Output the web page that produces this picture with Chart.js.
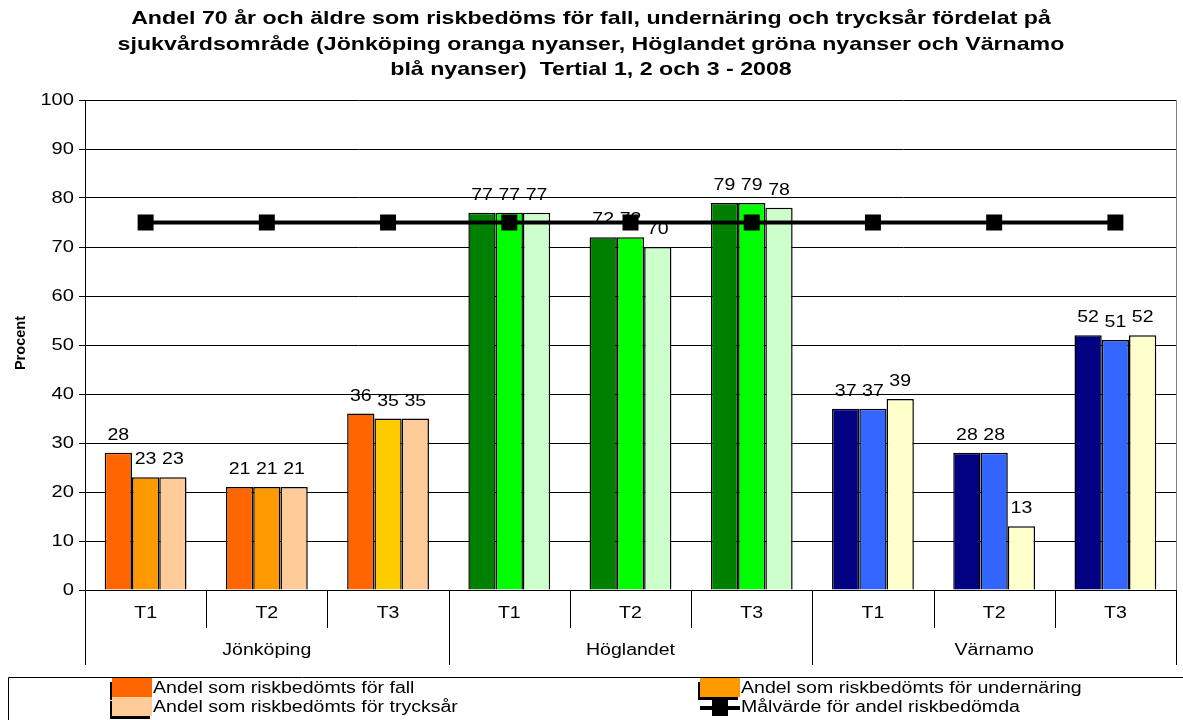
<!DOCTYPE html>
<html>
<head>
<meta charset="utf-8">
<script src="https://cdn.jsdelivr.net/npm/chart.js@4.4.1/dist/chart.umd.min.js"></script>
<style>
html,body{margin:0;padding:0;background:#fff;}
canvas{display:block;}
</style>
</head>
<body>
<canvas id="c" width="1183" height="720"></canvas>
<script>
const categories = ['T1','T2','T3','T1','T2','T3','T1','T2','T3'];
const groups = ['Jönköping','Höglandet','Värnamo'];
const fall = [28,21,36,77,72,79,37,28,52];
const undernaring = [23,21,35,77,72,79,37,28,51];
const trycksar = [23,21,35,77,70,78,39,13,52];
const malvarde = [75,75,75,75,75,75,75,75,75];
const seriesNames = ['Andel som riskbedömts för fall','Andel som riskbedömts för undernäring','Andel som riskbedömts för trycksår','Målvärde för andel riskbedömda'];
const titleLines = ['Andel 70 år och äldre som riskbedöms för fall, undernäring och trycksår fördelat på','sjukvårdsområde (Jönköping oranga nyanser, Höglandet gröna nyanser och Värnamo','blå nyanser)  Tertial 1, 2 och 3 - 2008'];
const yTitle = 'Procent';

const FONT = "'Liberation Sans', Arial, sans-serif";
const SX = 1.22;
const c1 = ['#FF6600','#FF6600','#FF6600','#008000','#008000','#008000','#000080','#000080','#000080'];
const c2 = ['#FF9900','#FF9900','#FFCC00','#00FF00','#00FF00','#00FF00','#3366FF','#3366FF','#3366FF'];
const c3 = ['#FFCC99','#FFCC99','#FFCC99','#CCFFCC','#CCFFCC','#CCFFCC','#FFFFCC','#FFFFCC','#FFFFCC'];

function txt(ctx, t, x, y, align, font, base) {
  ctx.save();
  ctx.translate(x, y);
  ctx.scale(SX, 1);
  ctx.font = font;
  ctx.textAlign = align;
  ctx.textBaseline = base || 'middle';
  ctx.fillStyle = '#000';
  ctx.fillText(t, 0, 0);
  ctx.restore();
}

const decor = {
  id: 'decor',
  afterDatasetDraw(chart, args) {
    const ds = chart.data.datasets[args.index];
    if (ds.type === 'line') return;
    const ctx = chart.ctx;
    args.meta.data.forEach((bar, i) => {
      txt(ctx, String(ds.data[i]), bar.x, bar.y - 13, 'center', '16px ' + FONT, 'alphabetic');
    });
  },
  afterDraw(chart) {
    const ctx = chart.ctx;
    const ca = chart.chartArea;
    const xs = chart.scales.x;
    const ys = chart.scales.y;
    ctx.save();
    // title
    titleLines.forEach((t, i) => txt(ctx, t, 591, 19 + i * 25.5, 'center', 'bold 19px ' + FONT));
    // y title
    ctx.save();
    ctx.translate(21, 343);
    ctx.rotate(-Math.PI / 2);
    ctx.scale(1.12, 1.1);
    ctx.font = 'bold 13px ' + FONT;
    ctx.textAlign = 'center';
    ctx.textBaseline = 'middle';
    ctx.fillStyle = '#000';
    ctx.fillText(yTitle, 0, 0);
    ctx.restore();
    // y tick labels
    ys.ticks.forEach(tk => {
      txt(ctx, String(tk.value), 74, ys.getPixelForValue(tk.value), 'right', '16.5px ' + FONT);
    });
    // right border
    ctx.strokeStyle = '#808080';
    ctx.lineWidth = 1;
    ctx.beginPath();
    ctx.moveTo(ca.right + 0.5, ca.top);
    ctx.lineTo(ca.right + 0.5, ca.bottom);
    ctx.stroke();
    // x axis line and category structure
    ctx.strokeStyle = '#000';
    ctx.beginPath();
    ctx.moveTo(ca.left, ca.bottom + 0.5);
    ctx.lineTo(ca.right, ca.bottom + 0.5);
    ctx.stroke();
    const n = categories.length;
    const half = (xs.getPixelForValue(1) - xs.getPixelForValue(0)) / 2;
    for (let i = 0; i <= n; i++) {
      const x = Math.round(i < n ? xs.getPixelForValue(i) - half : xs.getPixelForValue(n - 1) + half) + 0.5;
      const groupEdge = (i % 3 === 0);
      ctx.beginPath();
      ctx.moveTo(x, ca.bottom);
      ctx.lineTo(x, groupEdge ? 665 : 628);
      ctx.stroke();
    }
    categories.forEach((lab, i) => {
      txt(ctx, lab, xs.getPixelForValue(i), 614, 'center', '16px ' + FONT);
    });
    groups.forEach((g, gi) => {
      const x = (xs.getPixelForValue(gi * 3) + xs.getPixelForValue(gi * 3 + 2)) / 2;
      txt(ctx, g, x, 651, 'center', '16px ' + FONT);
    });
    // legend box
    ctx.strokeStyle = '#000';
    ctx.beginPath();
    ctx.rect(8.5, 677.5, 1180, 50);
    ctx.stroke();
    const items = [
      {x: 112, y: 688, color: c1[0], text: seriesNames[0]},
      {x: 700, y: 688, color: c2[0], text: seriesNames[1]},
      {x: 112, y: 707, color: c3[0], text: seriesNames[2]},
    ];
    items.forEach(it => {
      ctx.fillStyle = '#000';
      ctx.fillRect(it.x - 2, it.y - 6, 40, 18);
      ctx.fillStyle = it.color;
      ctx.fillRect(it.x, it.y - 10, 40, 19);
      txt(ctx, it.text, it.x + 41, it.y + 1, 'left', '16px ' + FONT);
    });
    // line legend
    ctx.fillStyle = '#000';
    ctx.fillRect(700, 706, 40, 4);
    ctx.fillRect(712, 700, 16, 16);
    txt(ctx, seriesNames[3], 741, 708, 'left', '16px ' + FONT);
    ctx.restore();
  }
};

new Chart(document.getElementById('c'), {
  type: 'bar',
  data: {
    labels: categories,
    datasets: [
      {label: seriesNames[0], data: fall, backgroundColor: c1, borderColor: '#000', borderWidth: 1.5, order: 1, barPercentage: 1, categoryPercentage: 0.675},
      {label: seriesNames[1], data: undernaring, backgroundColor: c2, borderColor: '#000', borderWidth: 1.5, order: 1, barPercentage: 1, categoryPercentage: 0.675},
      {label: seriesNames[2], data: trycksar, backgroundColor: c3, borderColor: '#000', borderWidth: 1.5, order: 1, barPercentage: 1, categoryPercentage: 0.675},
      {type: 'line', label: seriesNames[3], data: malvarde, borderColor: '#000', backgroundColor: '#000', borderWidth: 4, pointStyle: 'rect', pointRadius: 11.3, pointBorderWidth: 0, order: 0, fill: false, tension: 0}
    ]
  },
  options: {
    responsive: false,
    animation: false,
    layout: {autoPadding: false, padding: {top: 100, right: 7, bottom: 0, left: 0}},
    plugins: {legend: {display: false}, title: {display: false}, tooltip: {enabled: false}},
    scales: {
      x: {
        ticks: {display: false},
        grid: {display: false},
        border: {display: false},
        afterFit(s) { s.height = 130; s.paddingLeft = 0; s.paddingRight = 0; }
      },
      y: {
        min: 0, max: 100,
        ticks: {stepSize: 10, display: false},
        grid: {color: '#000', lineWidth: 1, tickLength: 6},
        border: {display: true, color: '#000', width: 1},
        afterFit(s) { s.width = 85; s.paddingTop = 0; s.paddingBottom = 0; }
      }
    }
  },
  plugins: [decor]
});
</script>
</body>
</html>
